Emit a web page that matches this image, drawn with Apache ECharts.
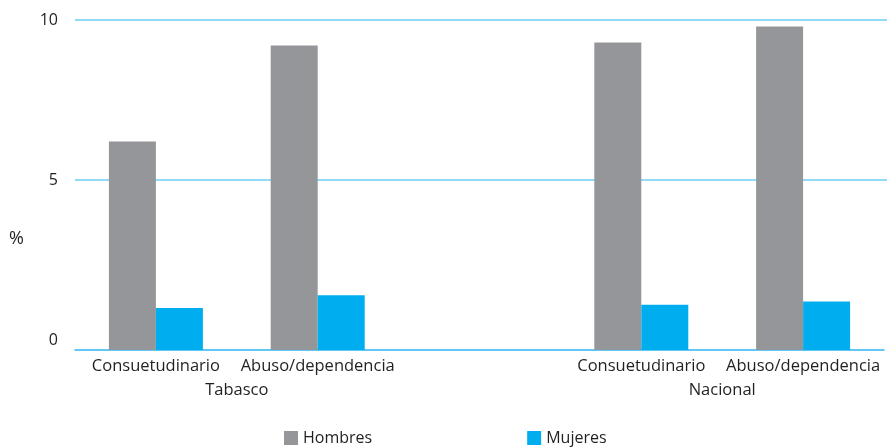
<!DOCTYPE html>
<html>
<head>
<meta charset="utf-8">
<script src="https://cdn.jsdelivr.net/npm/echarts@6/dist/echarts.min.js"></script>
<style>html,body{margin:0;padding:0;background:#fff}#c{width:887px;height:447px}</style>
</head>
<body>
<div id="c"></div>
<script>
const categories = ["Consuetudinario", "Abuso/dependencia", "", "Consuetudinario", "Abuso/dependencia"];
const groups = ["Tabasco", "Nacional"];
const seriesNames = ["Hombres", "Mujeres"];
const hombres = [6.2, 9.2, null, 9.3, 9.8];
const mujeres = [1.0, 1.4, null, 1.1, 1.2];
const yTicks = [0, 5, 10];

// In the original the category axis sits slightly below the zero level,
// and the bars are drawn down to it: a small "floor" below zero.
const AXIS_FLOOR = -0.3125;
const floorOf = arr => arr.map(v => (v == null ? null : AXIS_FLOOR));

const FONT = '"Open Sans", "Noto Sans", sans-serif';
const TXT = '#231f20';
const GREY = '#959699', BLUE = '#00aeef';
// group label axis: 11 slots at half-category steps spanning the grid
const groupSlots = new Array(11).fill('');
groupSlots[2] = groups[0];
groupSlots[8] = groups[1];

const chart = echarts.init(document.getElementById('c'));
chart.setOption({
  animation: false,
  textStyle: { fontFamily: FONT },
  title: { text: '%', left: 4, top: 225, textStyle: { color: TXT, fontSize: 18, fontWeight: 'normal', fontFamily: FONT } },
  grid: [
    { left: 75, right: 0, top: 20, height: 330 },
    { left: 75, right: 0, top: 20, height: 320 }
  ],
  legend: {
    data: seriesNames,
    left: 279, top: 425,
    icon: 'rect', itemWidth: 14, itemHeight: 14, itemGap: 155,
    textStyle: { fontFamily: FONT, fontSize: 16, color: TXT }
  },
  xAxis: [
    {
      gridIndex: 0, type: 'category', data: categories,
      axisLine: { onZero: false, lineStyle: { color: '#2cb7ee', width: 1.5 } },
      axisTick: { show: false },
      axisLabel: { interval: 0, color: TXT, fontSize: 16.5, margin: 8, fontFamily: FONT }
    },
    {
      gridIndex: 0, type: 'category', data: groupSlots, boundaryGap: false,
      position: 'bottom', offset: 24,
      axisLine: { show: false }, axisTick: { show: false },
      axisLabel: { interval: 0, color: TXT, fontSize: 16.5, margin: 8, fontFamily: FONT }
    },
    { gridIndex: 1, type: 'value', show: false, min: 0, max: 1 }
  ],
  yAxis: [
    { gridIndex: 0, type: 'value', min: AXIS_FLOOR, max: 10, show: false },
    {
      gridIndex: 1, type: 'value', min: yTicks[0], max: yTicks[yTicks.length - 1], interval: 5,
      axisLine: { show: false }, axisTick: { show: false },
      axisLabel: { color: TXT, fontSize: 16, margin: 17, fontFamily: FONT },
      splitLine: { show: true, showMinLine: false, lineStyle: { color: '#6dcff6', width: 1.5 } }
    }
  ],
  series: [
    { name: seriesNames[0], type: 'bar', stack: 'h', xAxisIndex: 0, yAxisIndex: 0, data: hombres,
      barWidth: 47, barGap: '0%', itemStyle: { color: GREY }, z: 3 },
    { name: seriesNames[0] + ' base', type: 'bar', stack: 'h', xAxisIndex: 0, yAxisIndex: 0, data: floorOf(hombres),
      barWidth: 47, barGap: '0%', itemStyle: { color: GREY }, z: 3, legendHoverLink: false },
    { name: seriesNames[1], type: 'bar', stack: 'm', xAxisIndex: 0, yAxisIndex: 0, data: mujeres,
      barWidth: 47, barGap: '0%', itemStyle: { color: BLUE }, z: 3 },
    { name: seriesNames[1] + ' base', type: 'bar', stack: 'm', xAxisIndex: 0, yAxisIndex: 0, data: floorOf(mujeres),
      barWidth: 47, barGap: '0%', itemStyle: { color: BLUE }, z: 3, legendHoverLink: false }
  ]
});
</script>
</body>
</html>
